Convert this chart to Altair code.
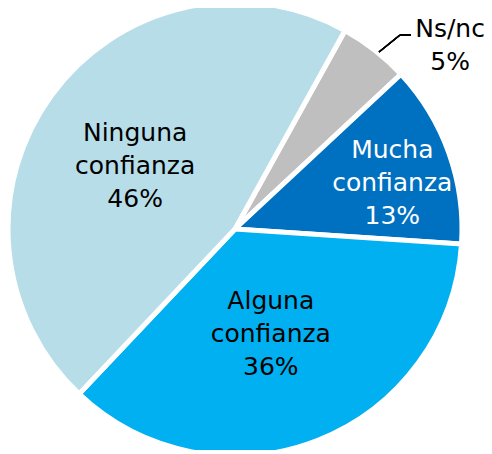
import math
import altair as alt
import pandas as pd

categories = ["Ns/nc", "Mucha confianza", "Alguna confianza", "Ninguna confianza"]
values = [5, 13, 36, 46]
label_lines = ["Ns/nc\n5%", "Mucha\nconfianza\n13%", "Alguna\nconfianza\n36%", "Ninguna\nconfianza\n46%"]
colors = ["#BFBFBF", "#0070C0", "#00B0F0", "#B7DDE8"]

df = pd.DataFrame({"cat": categories, "value": values, "label": label_lines,
                   "order": list(range(len(categories)))})

start = math.radians(29)
tscale = alt.Scale(domain=[0, 100], range=[start, start + 2 * math.pi])
color = alt.Color("cat:N", scale=alt.Scale(domain=categories, range=colors), legend=None)

base = alt.Chart(df)

pie = base.mark_arc(outerRadius=227, stroke="white", strokeWidth=5).encode(
    theta=alt.Theta("value:Q", stack=True, scale=tscale),
    color=color, order=alt.Order("order:Q"))

lab = base.transform_window(
    cum="sum(value)", sort=[alt.SortField("order")], frame=[None, 0]
).transform_calculate(mid="datum.cum - datum.value / 2")

font = "DejaVu Sans"
FS = 25
LH = 33


def label(cat, radius, offset, col, nlines):
    return lab.transform_filter(alt.datum.cat == cat).mark_text(
        radius=radius, thetaOffset=offset, fontSize=FS, lineHeight=LH, font=font,
        color=col, lineBreak="\n", align="center", baseline="middle",
        dy=-(nlines - 1) * LH / 2).encode(
        theta=alt.Theta("mid:Q", stack=None, scale=tscale), text="label:N")


l_nin = label("Ninguna confianza", 118, -0.07, "black", 3)
l_alg = label("Alguna confianza", 111, 0.045, "black", 3)
l_muc = label("Mucha confianza", 164, 0.055, "white", 3)
l_ns = label("Ns/nc", 283, 0.2, "black", 2)

leader1 = base.mark_rule(color="black", strokeWidth=1.5).encode(
    x=alt.value(371), y=alt.value(44), x2=alt.value(392), y2=alt.value(27))
leader2 = base.mark_rule(color="black", strokeWidth=1.5).encode(
    x=alt.value(392), y=alt.value(27), x2=alt.value(403), y2=alt.value(27))

chart = alt.layer(pie, l_nin, l_alg, l_muc, l_ns, leader1, leader2).properties(
    width=454, height=442, padding={"left": 0, "top": 0, "right": 22, "bottom": 0},
    autosize="none"
).configure_view(stroke=None)

chart.save("out.html", embed_options={"renderer": "svg", "actions": False})
